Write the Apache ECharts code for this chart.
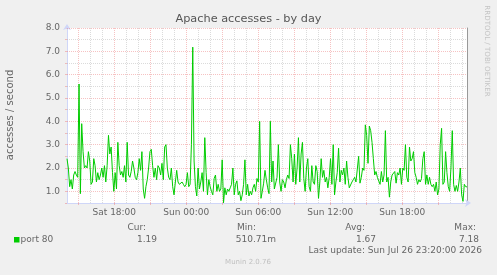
<!DOCTYPE html>
<html><head><meta charset="utf-8">
<script src="https://cdn.jsdelivr.net/npm/echarts@6/dist/echarts.min.js"></script>
<style>html,body{margin:0;padding:0;background:#f0f0f0}#c{width:497px;height:275px}</style>
</head><body><div id="c"></div>
<script>
// ---- data (hours counted from Sat 00:00) ----
const chartTitle = 'Apache accesses - by day';
const yAxisName = 'accesses / second';
const xStartHour = 14.06;   // Sat ~14:04
const xEndHour = 47.39;     // Sun ~23:23
const xLabelHours = [18, 24, 30, 36, 42];
const xMajorHours = [15, 18, 21, 24, 27, 30, 33, 36, 39, 42, 45];
const xMinorHours = [16, 17, 19, 20, 22, 23, 25, 26, 28, 29, 31, 32, 34, 35, 37, 38, 40, 41, 43, 44, 46, 47];
const yMajorValues = [1, 2, 3, 4, 5, 6, 7, 8];
const yMinorValues = [1.5, 2.5, 3.5, 4.5, 5.5, 6.5, 7.5];

const part1 = [2.4, 2.0, 1.2, 1.5, 1.1, 1.7, 1.85, 1.7, 1.6, 5.6, 0.9, 3.9, 2.7, 2.0, 2.1, 2.0, 2.7, 2.3, 1.3, 1.4, 2.4, 2.1, 1.4, 1.8, 1.5, 1.7, 2.0, 1.6, 2.1, 1.4, 2.1, 3.4, 2.6, 2.9, 1.8, 1.0, 1.8, 1.1, 3.1, 2.1, 1.7, 1.85, 1.6, 2.1, 1.4, 3.1, 1.7, 1.6, 1.85, 2.3];
const part2 = [2.0, 1.6, 1.5, 1.8, 2.4, 1.9, 2.7, 1.1, 0.7, 1.2, 1.5, 2.0, 2.7, 2.8, 2.1, 1.6, 2.0, 1.5, 2.1, 2.0, 1.7, 2.2, 1.5, 2.9, 3.0, 2.0, 1.6, 1.5, 2.0, 1.2, 0.85, 1.4, 1.9, 1.4, 1.3, 1.3, 1.4, 1.3, 1.2, 1.3, 1.8, 1.2, 1.3, 3.0, 7.18, 2.3, 1.2, 0.8, 2.0, 1.1];
const part3 = [1.4, 1.8, 1.0, 3.3, 1.8, 0.85, 1.5, 1.2, 1.0, 0.85, 1.55, 1.7, 1.0, 1.3, 1.0, 1.1, 2.35, 0.51, 1.15, 0.85, 1.1, 1.0, 1.15, 1.3, 2.0, 0.85, 1.3, 1.45, 0.85, 1.0, 0.6, 0.85, 1.3, 2.35, 0.85, 1.3, 0.8, 1.0, 0.85, 1.15, 1.3, 1.0, 1.55, 1.4, 4.0, 0.7, 1.0, 1.35, 1.9, 1.5];
const part4 = [1.15, 0.9, 4.0, 1.4, 2.3, 1.1, 1.15, 1.6, 3.0, 1.4, 1.0, 1.5, 1.4, 1.15, 1.5, 1.7, 1.55, 3.0, 2.4, 1.4, 2.6, 1.3, 2.0, 3.3, 1.4, 2.6, 3.1, 1.55, 1.0, 2.0, 2.4, 1.2, 1.0, 2.1, 1.4, 1.3, 2.1, 1.85, 0.7, 1.4, 2.4, 1.6, 1.9, 1.4, 1.6, 1.15, 1.6, 2.4, 1.3, 3.0];
const part5 = [0.85, 1.4, 1.8, 2.85, 1.4, 1.9, 1.7, 2.0, 1.3, 2.3, 1.6, 1.15, 1.15, 1.4, 1.5, 1.6, 1.4, 1.45, 2.5, 1.35, 1.6, 2.0, 1.9, 3.85, 3.4, 2.2, 3.8, 3.6, 3.1, 2.4, 1.7, 1.85, 1.6, 1.6, 1.3, 1.85, 1.4, 1.7, 3.6, 1.4, 1.6, 0.75, 1.4, 1.7, 1.7, 1.85, 1.35, 1.8, 1.7, 2.0];
const part6 = [1.3, 2.0, 1.9, 3.0, 1.6, 1.4, 2.9, 2.3, 2.4, 2.7, 1.8, 1.6, 1.3, 1.5, 1.4, 1.55, 2.4, 2.7, 1.3, 1.7, 1.3, 1.6, 1.3, 1.2, 1.3, 1.0, 1.4, 0.85, 1.1, 3.0, 3.7, 1.3, 1.4, 2.7, 1.8, 1.2, 1.0, 2.0, 3.6, 1.3, 1.0, 1.25, 1.0, 1.4, 2.0, 0.85, 0.57, 1.3, 1.2, 1.19];

const legendName = 'port 80';
const statLabels = ['Cur:', 'Min:', 'Avg:', 'Max:'];
const statValues = ['1.19', '510.71m', '1.67', '7.18'];
const lastUpdate = 'Last update: Sun Jul 26 23:20:00 2026';
const watermark = 'RRDTOOL / TOBI OETIKER';
const footer = 'Munin 2.0.76';

// ---- build ----
const values = [].concat(part1, part2, part3, part4, part5, part6);
const step = (xEndHour - xStartHour) / (values.length - 1);
const seriesData = values.map((v, i) => [xStartHour + i * step, v]);

const FONT = 'DejaVu Sans';
const TXT = '#666666';
const AXIS = '#CFD6F8';
const MAJOR = 'rgba(235,120,120,0.45)';
const MINOR = 'rgba(175,175,175,0.45)';

function pad(n) { return (n < 10 ? '0' : '') + n; }
function hourLabel(h) { return (h < 24 ? 'Sat ' : 'Sun ') + pad(Math.round(h) % 24) + ':00'; }

const dotted = c => ({ color: c, type: [1, 1], width: 1 });
const gridLines = [];
xMinorHours.forEach(h => gridLines.push({ xAxis: h, lineStyle: dotted(MINOR) }));
yMinorValues.forEach(v => gridLines.push({ yAxis: v, lineStyle: dotted(MINOR) }));
xMajorHours.forEach(h => gridLines.push({ xAxis: h, lineStyle: dotted(MAJOR) }));
yMajorValues.forEach(v => gridLines.push({ yAxis: v, lineStyle: dotted(MAJOR) }));

const statRight = [146, 256, 365, 476];
const valRight = [157, 276, 376, 479];
const graphics = [
  { type: 'text', left: 'center', top: 14, style: { text: chartTitle, font: '11.3px "' + FONT + '"', fill: '#555', textAlign: 'center' } },
  { type: 'text', x: 10, y: 115, rotation: Math.PI / 2, style: { text: yAxisName, font: '10px "' + FONT + '"', fill: TXT, textAlign: 'center', textVerticalAlign: 'middle' } },
  { type: 'text', x: 487, y: 51, rotation: -Math.PI / 2, style: { text: watermark, font: '7.1px "' + FONT + '"', fill: '#c4c4c4', textAlign: 'center', textVerticalAlign: 'middle' } },
  { type: 'rect', shape: { x: 14, y: 237, width: 5.5, height: 5.5 }, style: { fill: '#00CC00' } },
  { type: 'text', x: 20.5, y: 239.5, style: { text: legendName, font: '9px "' + FONT + '"', fill: TXT, textAlign: 'left', textVerticalAlign: 'middle' } },
  { type: 'text', x: 482, y: 251, style: { text: lastUpdate, font: '9px "' + FONT + '"', fill: TXT, textAlign: 'right', textVerticalAlign: 'middle' } },
  { type: 'text', x: 248, y: 262.5, style: { text: footer, font: '7px "' + FONT + '"', fill: '#c0c0c0', textAlign: 'center', textVerticalAlign: 'middle' } }
];
statLabels.forEach((s, i) => graphics.push({ type: 'text', x: statRight[i], y: 227.5, style: { text: s, font: '9px "' + FONT + '"', fill: TXT, textAlign: 'right', textVerticalAlign: 'middle' } }));
statValues.forEach((s, i) => graphics.push({ type: 'text', x: valRight[i], y: 239.5, style: { text: s, font: '9px "' + FONT + '"', fill: TXT, textAlign: 'right', textVerticalAlign: 'middle' } }));

const chart = echarts.init(document.getElementById('c'), null, { renderer: 'canvas' });
chart.setOption({
  backgroundColor: '#f0f0f0',
  animation: false,
  textStyle: { fontFamily: FONT },
  grid: { left: 67, right: 30, top: 28, bottom: 72, show: true, backgroundColor: '#ffffff', borderWidth: 0 },
  xAxis: {
    type: 'value', min: xStartHour, max: xEndHour,
    axisLine: { show: true, lineStyle: { color: AXIS, width: 1 }, symbol: ['none', 'arrow'], symbolSize: [6, 6], symbolOffset: [0, 4] },
    axisTick: { show: true, length: 2, customValues: xMajorHours, lineStyle: { color: MAJOR } },
    axisLabel: { customValues: xLabelHours, formatter: hourLabel, color: TXT, fontSize: 9, fontFamily: FONT, margin: 5 },
    splitLine: { show: false }
  },
  yAxis: [{
    type: 'value', min: 0.5, max: 8, interval: 0.5,
    axisLine: { show: true, lineStyle: { color: AXIS, width: 1 }, symbol: ['none', 'arrow'], symbolSize: [6, 6], symbolOffset: [0, 4] },
    axisTick: { show: true, length: 2, lineStyle: { color: MAJOR } },
    axisLabel: { formatter: v => (Math.abs(v - Math.round(v)) < 1e-9 ? v.toFixed(1) : ''), color: TXT, fontSize: 9, fontFamily: FONT, margin: 7 },
    splitLine: { show: false }
  }, {
    type: 'value', position: 'right', min: 0.5, max: 8,
    axisLine: { show: true, lineStyle: { color: '#999999', width: 1 } },
    axisTick: { show: false }, axisLabel: { show: false }, splitLine: { show: false }
  }],
  series: [{
    type: 'line', data: [], silent: true, z: 1,
    markLine: { z: 1, silent: true, symbol: ['none', 'none'], label: { show: false },
      lineStyle: { type: [1, 1], width: 1 }, data: gridLines }
  }, {
    type: 'line', name: legendName, data: seriesData, showSymbol: false, z: 3,
    lineStyle: { color: '#00CC00', width: 1 }, itemStyle: { color: '#00CC00' }, silent: true
  }],
  graphic: graphics
});
</script></body></html>
